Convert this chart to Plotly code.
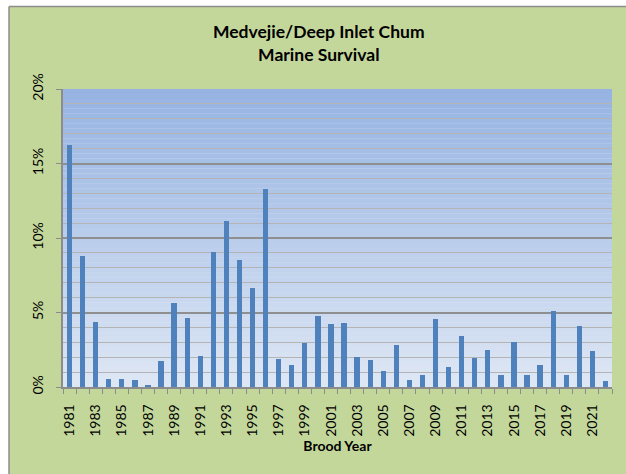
import plotly.graph_objects as go

years = list(range(1981, 2023))
survival = [16.26, 8.77, 4.36, 0.56, 0.54, 0.47, 0.16, 1.74, 5.62, 4.61,
            2.08, 9.08, 11.14, 8.52, 6.64, 13.29, 1.90, 1.48, 2.98, 4.77,
            4.23, 4.30, 2.01, 1.79, 1.10, 2.82, 0.45, 0.83, 4.54, 1.32,
            3.45, 1.95, 2.51, 0.78, 3.04, 0.83, 1.45, 5.08, 0.78, 4.09,
            2.39, 0.43]
values = [v / 100 for v in survival]
tick_years = [y for y in years if y % 2 == 1]
tick_text = [str(y) for y in tick_years]

FONT = "Lato"
GREEN = "#c4d79b"
BAR = "#4f81bd"
BORDER = "#8c8c8c"

fig = go.Figure(go.Bar(x=years, y=values, width=0.4, marker=dict(color=BAR, line=dict(width=0))))

# plot area spans pixels x 63..612, y 89..387
def px_x(p):
    return (p - 63) / 549

def px_y(p):
    return (387 - p) / 298

shapes = []
N = 60
top = (149, 179, 226)
bot = (222, 231, 244)
for i in range(N):
    t = (i + 0.5) / N
    c = tuple(round(bot[k] + (top[k] - bot[k]) * t) for k in range(3))
    shapes.append(dict(type="rect", xref="x domain", yref="y domain", x0=0, x1=1,
                       y0=i / N, y1=(i + 1) / N, fillcolor="rgb(%d,%d,%d)" % c,
                       line=dict(width=0), layer="below"))

# green chart area around the plot area (four bands), white outside
bands = [
    (9, 640, 6.5, 89),      # top band
    (9, 640, 387, 480),     # bottom band
    (9, 63, 89, 387),       # left band
    (612, 640, 89, 387),    # right band
]
for x0, x1, y0, y1 in bands:
    shapes.append(dict(type="rect", xref="paper", yref="paper",
                       x0=px_x(x0), x1=px_x(x1), y0=px_y(y1), y1=px_y(y0),
                       fillcolor=GREEN, line=dict(width=0), layer="below"))
shapes.append(dict(type="line", xref="paper", yref="paper", x0=px_x(9), x1=px_x(640),
                   y0=px_y(6.5), y1=px_y(6.5), line=dict(color=BORDER, width=1.5)))
shapes.append(dict(type="line", xref="paper", yref="paper", x0=px_x(9), x1=px_x(9),
                   y0=px_y(6.5), y1=px_y(480), line=dict(color=BORDER, width=1.5)))

fig.update_layout(
    width=626, height=474,
    margin=dict(l=63, r=14, t=89, b=87, autoexpand=False),
    paper_bgcolor="white", plot_bgcolor="#dfe7f4",
    shapes=shapes,
    showlegend=False,
    font=dict(family=FONT, color="black", size=13),
    annotations=[dict(text="<b>Medvejie/Deep Inlet Chum<br>Marine Survival</b>",
                      xref="paper", yref="paper", x=px_x(319), y=px_y(42.5),
                      xanchor="center", yanchor="middle", showarrow=False,
                      font=dict(family=FONT, size=17.5, color="black"))],
    bargap=0,
)
fig.update_xaxes(
    range=[1980.5, 2022.5], tickmode="array", tickvals=tick_years, ticktext=tick_text,
    tickangle=-90, ticks="outside", ticklen=4, tickcolor="rgba(0,0,0,0)",
    ticklabelstandoff=6, automargin=False,
    showline=True, linecolor=BORDER, linewidth=1.5, showgrid=False, zeroline=False,
    minor=dict(tick0=1980.5, dtick=1, ticks="outside", ticklen=5, tickcolor=BORDER,
               showgrid=False),
    title=dict(text="<b>Brood Year</b>", standoff=4, font=dict(family=FONT, size=14)),
    tickfont=dict(family=FONT, size=14),
)
fig.update_yaxes(
    range=[0, 0.2], dtick=0.05, tickformat=".0%", tickangle=-90,
    ticks="outside", ticklen=5, tickcolor=BORDER, ticklabelstandoff=8,
    showline=True, linecolor=BORDER, linewidth=1.5, automargin=False,
    showgrid=True, gridcolor="#8f8f8f", gridwidth=1.5, zeroline=False,
    minor=dict(dtick=0.01, showgrid=True, gridcolor="#b4b4b4", gridwidth=1),
    tickfont=dict(family=FONT, size=14),
)

fig.write_html("out.html", config={"displayModeBar": False},
               post_script="document.body.style.margin='0';")
